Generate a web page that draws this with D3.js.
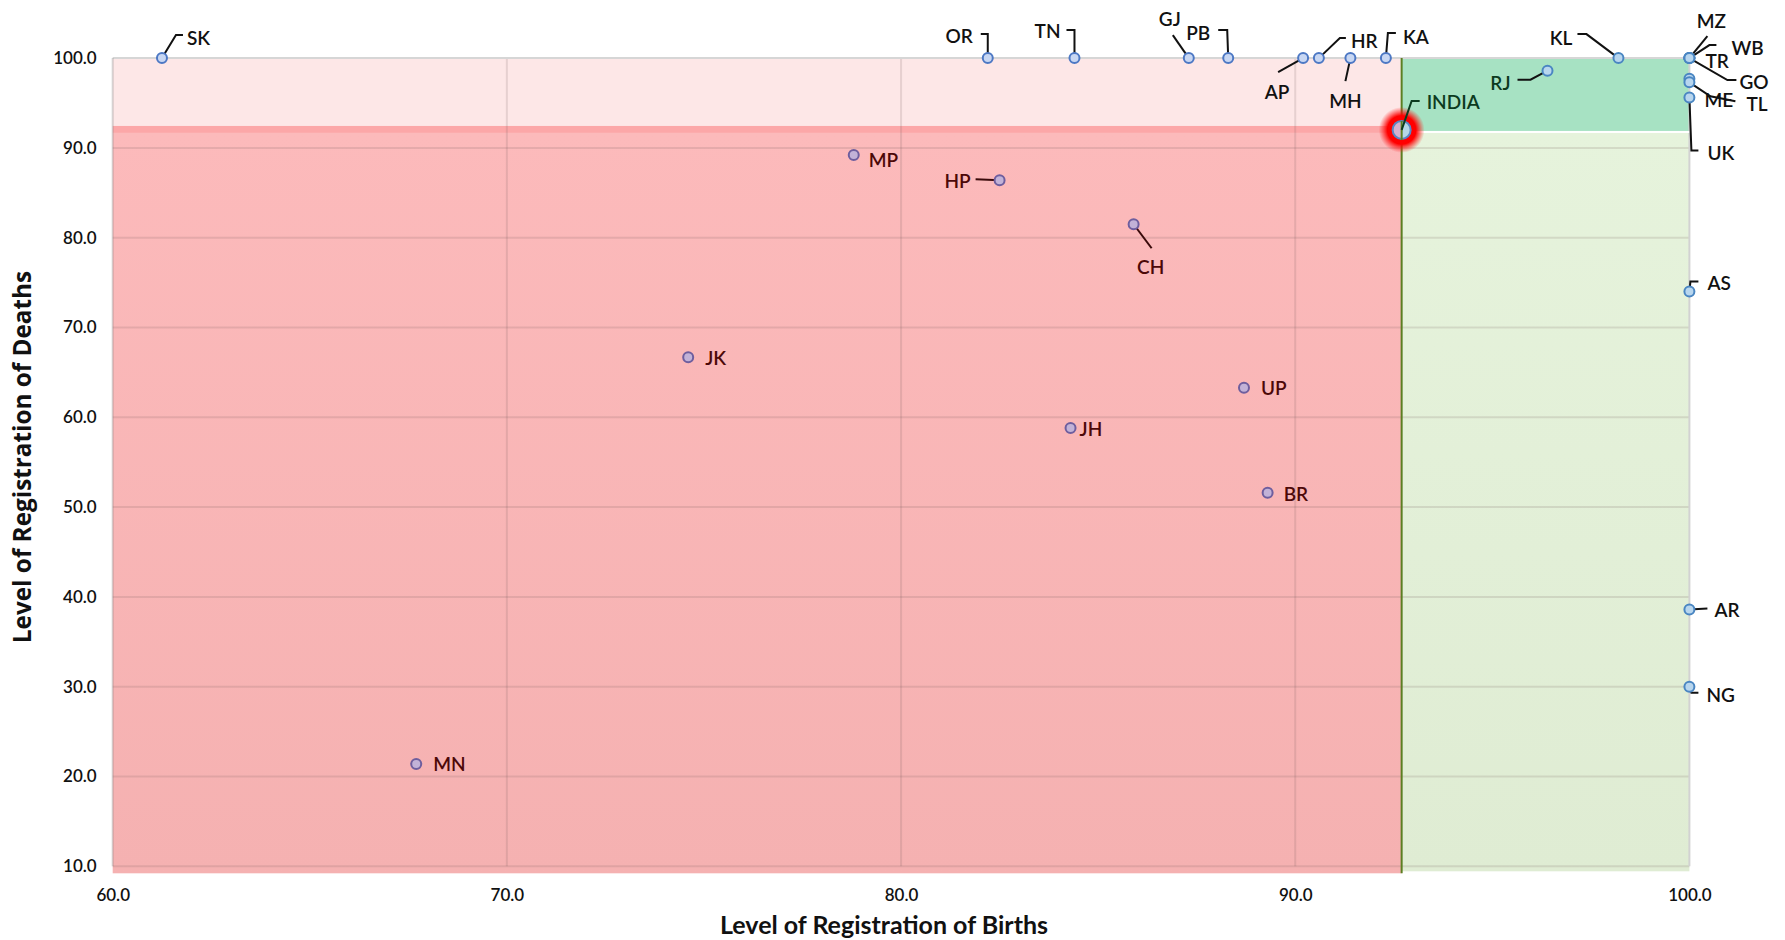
<!DOCTYPE html>
<html>
<head>
<meta charset="utf-8">
<script src="https://cdn.jsdelivr.net/npm/d3@7"></script>
<style>
  html, body { margin: 0; padding: 0; background: #ffffff; }
  svg { display: block; }
</style>
</head>
<body>
<svg id="chart" width="1785" height="940"></svg>
<script>
// ---------------- DATA ----------------
const states = ["SK","OR","TN","GJ","PB","AP","HR","MH","KA","KL","MZ","WB","TR","GO","ME","TL","UK","RJ","AS","AR","NG","MP","HP","CH","JK","UP","JH","BR","MN"];
const birthsLevel = [61.25,82.2,84.4,87.3,88.3,90.2,90.6,91.4,92.3,98.2,100,100,100,100,100,100,100,96.4,100,100,100,78.8,82.5,85.9,74.6,88.7,84.3,89.3,67.7];
const deathsLevel = [100,100,100,100,100,100,100,100,100,100,100,100,100,100,97.7,97.3,95.6,98.6,74.0,38.6,30.0,89.2,86.4,81.5,66.7,63.3,58.8,51.6,21.4];
const indiaName = "INDIA";
const indiaBirths = 92.7;
const indiaDeaths = 92.0;
const xTicks = [60,70,80,90,100];
const yTicks = [10,20,30,40,50,60,70,80,90,100];
const xTitle = "Level of Registration of Births";
const yTitle = "Level of Registration of Deaths";

// ---------------- LAYOUT (label placement, px offsets from point) ----------------
const labelLayout = {
  SK:{a:"start",dx:25,dy:-21,p:[[0,0],[14,-23],[21,-23]]},
  OR:{a:"end",dx:-15,dy:-23,p:[[0,0],[0,-24],[-7,-24]]},
  TN:{a:"end",dx:-14,dy:-28,p:[[0,0],[0,-28],[-8,-28]]},
  GJ:{a:"middle",dx:-19,dy:-40,p:[[0,0],[-16,-23]]},
  PB:{a:"end",dx:-18,dy:-26,p:[[0,0],[-1,-28],[-10,-28]]},
  AP:{a:"middle",dx:-26,dy:33,p:[[0,0],[-25,14]]},
  HR:{a:"start",dx:32,dy:-18,p:[[0,0],[21,-20],[27,-20]]},
  MH:{a:"middle",dx:-5,dy:42,p:[[0,0],[-5,23]]},
  KA:{a:"start",dx:17,dy:-22,p:[[0,0],[2,-25],[10,-25]]},
  KL:{a:"end",dx:-46,dy:-21,p:[[0,0],[-32,-24],[-41,-24]]},
  MZ:{a:"middle",dx:22,dy:-38,p:[[0,0],[18,-22]]},
  WB:{a:"start",dx:42,dy:-11,p:[[0,0],[20,-13],[27,-13]]},
  TR:{a:"start",dx:16,dy:2,p:null},
  GO:{a:"start",dx:50,dy:23,p:[[0,0],[38,22],[47,22]]},
  ME:{a:"start",dx:15,dy:21,p:null},
  TL:{a:"start",dx:57,dy:21,p:[[0,0],[21,14],[46,19]]},
  UK:{a:"start",dx:18,dy:55,p:[[0,0],[2,53],[9,53]]},
  RJ:{a:"end",dx:-37,dy:12,p:[[0,0],[-17,9],[-30,9]]},
  AS:{a:"start",dx:18,dy:-9,p:[[0,0],[1,-10],[9,-10]]},
  AR:{a:"start",dx:25,dy:0,p:[[0,0],[18,-1]]},
  NG:{a:"start",dx:17,dy:8,p:[[0,0],[2,6],[9,6]]},
  MP:{a:"start",dx:15,dy:4,p:null},
  HP:{a:"end",dx:-29,dy:0,p:[[0,0],[-24,-1]]},
  CH:{a:"middle",dx:17,dy:42,p:[[0,0],[18,24]]},
  JK:{a:"start",dx:17,dy:0,p:null},
  UP:{a:"start",dx:17,dy:0,p:null},
  JH:{a:"start",dx:9,dy:0,p:null},
  BR:{a:"start",dx:16,dy:1,p:null},
  MN:{a:"start",dx:17,dy:0,p:null},
  INDIA:{a:"start",dx:25,dy:-28,p:[[0,0],[10,-29],[18,-29]]}
};

// ---------------- CHART ----------------
(function(){
const svg = d3.select("#chart");
const x = d3.scaleLinear().domain([60,100]).range([112.7,1689.4]);
const y = d3.scaleLinear().domain([10,100]).range([866.3,58.1]);

const defs = svg.append("defs");
const gRed = defs.append("linearGradient").attr("id","gRed").attr("x1",0).attr("x2",0).attr("y1",0).attr("y2",1);
gRed.append("stop").attr("offset","0%").attr("stop-color","#fcbabb");
gRed.append("stop").attr("offset","100%").attr("stop-color","#f5b1b1");
const gGreen = defs.append("linearGradient").attr("id","gGreen").attr("x1",0).attr("x2",0).attr("y1",0).attr("y2",1);
gGreen.append("stop").attr("offset","0%").attr("stop-color","#e6f3dc");
gGreen.append("stop").attr("offset","100%").attr("stop-color","#dfecd3");
const gGlow = defs.append("radialGradient").attr("id","gGlow");
gGlow.append("stop").attr("offset","0%").attr("stop-color","#ff0000").attr("stop-opacity",1);
gGlow.append("stop").attr("offset","62%").attr("stop-color","#ff0000").attr("stop-opacity",1);
gGlow.append("stop").attr("offset","100%").attr("stop-color","#ff2020").attr("stop-opacity",0);
const gIndia = defs.append("linearGradient").attr("id","gIndia").attr("x1",0).attr("x2",1).attr("y1",0).attr("y2",0);
gIndia.append("stop").attr("offset","50%").attr("stop-color","#d7b0cf");
gIndia.append("stop").attr("offset","50%").attr("stop-color","#b5d6e6");

const ix = x(indiaBirths), iy = y(indiaDeaths);
const pL = x(60), pR = x(100), pT = y(100), pB = y(10);

// background regions
const bg = svg.append("g");
bg.append("rect").attr("x",pL).attr("y",pT).attr("width",ix-pL).attr("height",iy-4-pT).attr("fill","#fde7e7");
bg.append("rect").attr("x",pL).attr("y",iy-4).attr("width",ix-pL).attr("height",7).attr("fill","#fca7a8");
bg.append("rect").attr("x",pL).attr("y",iy+3).attr("width",ix-pL).attr("height",pB+7-(iy+3)).attr("fill","url(#gRed)");
bg.append("rect").attr("x",ix).attr("y",pT).attr("width",pR-ix).attr("height",iy+1-pT).attr("fill","#a7e2c3");
bg.append("rect").attr("x",ix).attr("y",iy+3).attr("width",pR-ix).attr("height",pB+5-(iy+3)).attr("fill","url(#gGreen)");

// gridlines
const grid = svg.append("g");
grid.selectAll(".vg").data(xTicks.filter(d => d > 60 && d < 100)).join("line")
  .attr("x1",d=>x(d)).attr("x2",d=>x(d)).attr("y1",pT).attr("y2",pB)
  .attr("stroke","rgba(110,90,90,0.16)").attr("stroke-width",2);
grid.selectAll(".hg").data(yTicks.filter(d => d < 100)).join("line")
  .attr("x1",pL).attr("x2",pR).attr("y1",d=>y(d)).attr("y2",d=>y(d))
  .attr("stroke","rgba(110,90,90,0.16)").attr("stroke-width",2);
// borders
grid.append("line").attr("x1",pL).attr("x2",pR).attr("y1",pT).attr("y2",pT).attr("stroke","#d6d6d6").attr("stroke-width",2);
grid.append("line").attr("x1",pR).attr("x2",pR).attr("y1",pT).attr("y2",pB).attr("stroke","#d2d2d2").attr("stroke-width",2);
grid.append("line").attr("x1",pL).attr("x2",pL).attr("y1",pT).attr("y2",pB).attr("stroke","rgba(120,120,120,0.3)").attr("stroke-width",2);
// white separator above light green
grid.append("line").attr("x1",ix).attr("x2",pR).attr("y1",iy+2).attr("y2",iy+2).attr("stroke","#ffffff").attr("stroke-width",2);
// india vertical line
grid.append("line").attr("x1",ix).attr("x2",ix).attr("y1",pT).attr("y2",pB+7).attr("stroke","#5b7f22").attr("stroke-width",2);

// axes
const yAxis = svg.append("g").attr("transform",`translate(${pL},0)`)
  .call(d3.axisLeft(y).tickValues(yTicks).tickFormat(d3.format(".1f")).tickSize(0).tickPadding(16));
const xAxis = svg.append("g").attr("transform",`translate(0,${pB})`)
  .call(d3.axisBottom(x).tickValues(xTicks).tickFormat(d3.format(".1f")).tickSize(0).tickPadding(23));
[yAxis,xAxis].forEach(a => {
  a.select(".domain").remove();
  a.selectAll("text").attr("font-family","Lato, sans-serif").attr("font-weight",600).attr("font-size",17).attr("fill","#111");
});

// axis titles
svg.append("text").attr("x",884).attr("y",924).attr("text-anchor","middle").attr("dominant-baseline","central")
  .attr("font-family","Lato, sans-serif").attr("font-weight","bold").attr("font-size",25).attr("fill","#111").text(xTitle);
svg.append("text").attr("transform","translate(21,457) rotate(-90)").attr("text-anchor","middle").attr("dominant-baseline","central")
  .attr("font-family","'Open Sans', sans-serif").attr("font-weight","bold").attr("font-size",24.3).attr("fill","#111").text(yTitle);

// points
const pts = states.map((s,i) => ({name:s, bx:birthsLevel[i], dv:deathsLevel[i]}));
function zone(d){
  if (d.bx >= indiaBirths) return "green";
  if (d.dv < indiaDeaths) return "red";
  return "none";
}
const style = {
  red:  {fill:"#c2b2d7", stroke:"#6e5e9e", text:"#4c0808"},
  green:{fill:"#b8d6ee", stroke:"#4a86c2", text:"#111"},
  none: {fill:"#c8d7f3", stroke:"#4d78c4", text:"#111"}
};
const line = d3.line();
const ann = svg.append("g");
pts.forEach(d => {
  const px = x(d.bx), py = y(d.dv), L = labelLayout[d.name], z = zone(d);
  if (L.p) ann.append("path").attr("d", line(L.p.map(q => [px+q[0], py+q[1]])))
    .attr("fill","none").attr("stroke", z==="red" ? "#3a0a0a" : "#111").attr("stroke-width",2);
});
const ptG = svg.append("g");
ptG.selectAll("circle").data(pts).join("circle")
  .attr("cx",d=>x(d.bx)).attr("cy",d=>y(d.dv)).attr("r",5)
  .attr("fill",d=>style[zone(d)].fill).attr("stroke",d=>style[zone(d)].stroke).attr("stroke-width",2);
const txtColor = d => (d.name==="RJ") ? "#0c3b1f" : style[zone(d)].text;
svg.append("g").selectAll("text").data(pts).join("text")
  .attr("x",d=>x(d.bx)+labelLayout[d.name].dx).attr("y",d=>y(d.dv)+labelLayout[d.name].dy)
  .attr("text-anchor",d=>labelLayout[d.name].a).attr("dominant-baseline","central")
  .attr("font-family","Lato, sans-serif").attr("font-weight",600).attr("font-size",19).attr("fill",txtColor).text(d=>d.name);

// INDIA
const IL = labelLayout.INDIA;
svg.append("circle").attr("cx",ix).attr("cy",iy).attr("r",23).attr("fill","url(#gGlow)");
svg.append("circle").attr("cx",ix).attr("cy",iy).attr("r",9).attr("fill","url(#gIndia)").attr("stroke","#5a86c4").attr("stroke-width",2);
svg.append("line").attr("x1",ix).attr("x2",ix).attr("y1",iy-9).attr("y2",iy+10).attr("stroke","#5b7f22").attr("stroke-width",2);
svg.append("path").attr("d", line(IL.p.map(q => [ix+q[0], iy+q[1]]))).attr("fill","none").attr("stroke","#0c3b1f").attr("stroke-width",2);
svg.append("text").attr("x",ix+IL.dx).attr("y",iy+IL.dy).attr("dominant-baseline","central")
  .attr("font-family","Lato, sans-serif").attr("font-weight",600).attr("font-size",19).attr("fill","#0c3b1f").text(indiaName);
})();
</script>
</body>
</html>
